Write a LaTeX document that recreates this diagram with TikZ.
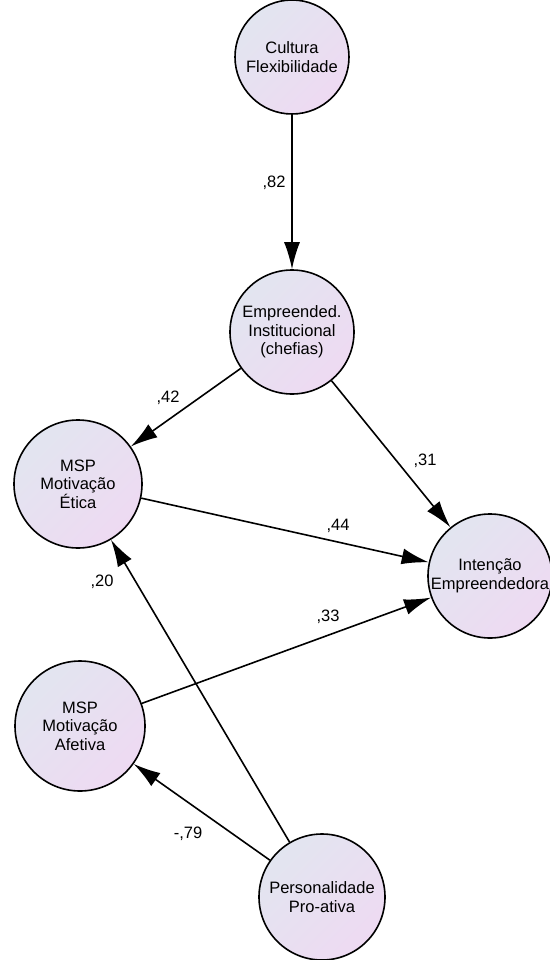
\documentclass[tikz,border=0pt]{standalone}
\usepackage{fontspec}
\setmainfont{Liberation Sans}
\usetikzlibrary{arrows.meta}
\definecolor{lavA}{RGB}{226,229,240}
\definecolor{lavB}{RGB}{238,218,242}
\tikzset{
  latent/.style={circle, draw=black, line width=1.6pt, inner sep=0pt,
    top color=lavA, bottom color=lavB, shading angle=45,
    align=center, font=\fontsize{16.5}{18.5}\selectfont},
  path/.style={draw=black, line width=1.6pt, -{Latex[length=27pt,width=16pt]}},
  coef/.style={font=\fontsize{16.5}{18.5}\selectfont, inner sep=0pt}
}
\begin{document}
\begin{tikzpicture}[x=1pt,y=-1pt]
\useasboundingbox (0,0) rectangle (549,960);
\node[latent, minimum size=114pt] (cult) at (292,57) {Cultura\\Flexibilidade};
\node[latent, minimum size=124pt] (empr) at (292,332) {Empreended.\\Institucional\\(chefias)};
\node[latent, minimum size=128pt] (etic) at (78,484) {MSP\\Motivação\\Ética};
\node[latent, minimum size=124pt] (inte) at (490,576) {Intenção\\Empreendedora};
\node[latent, minimum size=130pt] (afet) at (80,726) {MSP\\Motivação\\Afetiva};
\node[latent, minimum size=126pt] (pers) at (322,897) {Personalidade\\Pro-ativa};

\draw[path] (cult) -- (empr);
\draw[path] (empr) -- (etic);
\draw[path] (empr) -- (inte);
\draw[path] (etic) -- (inte);
\draw[path] (afet) -- (inte);
\draw[path] (pers) -- (etic);
\draw[path] (pers) -- (afet);

\node[coef] (c82) at (274,183) {,82};
\node[coef] (c42) at (168,398) {,42};
\node[coef] (c31) at (425,461) {,31};
\node[coef] (c44) at (338,526) {,44};
\node[coef] (c33) at (328,617) {,33};
\node[coef] (c20) at (102,582) {,20};
\node[coef] (c79) at (188,834) {-,79};
\end{tikzpicture}
\end{document}
